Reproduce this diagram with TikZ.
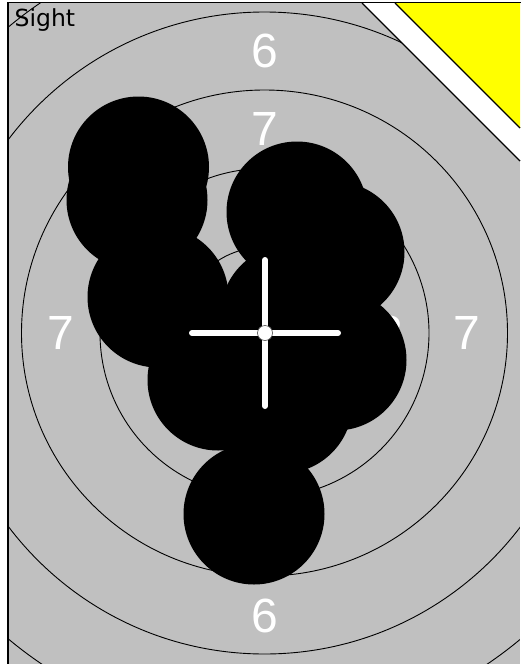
\documentclass[tikz,border=0pt]{standalone}
\usepackage{fontspec}
\setsansfont{Liberation Sans}
\newfontfamily\captionfont{DejaVu Sans}
\definecolor{targetgrey}{HTML}{C0C0C0}
\definecolor{signyellow}{HTML}{FFFF00}

\begin{document}
\begin{tikzpicture}[
    x=1pt, y=-1pt,
    ring/.style={draw=black, line width=0.9pt},
    hole/.style={fill=black},
    score/.style={text=white, font=\sffamily\fontsize{48}{48}\selectfont, inner sep=0pt},
    hair/.style={draw=white, line width=6pt, line cap=round},
    edge/.style={draw=black, line width=1.4pt},
]
\useasboundingbox (0,0) rectangle (520,664);

% Target area
\begin{scope}
\clip (8,3) -- (362,3) -- (520,161) -- (520,664) -- (8,664) -- cycle;
\fill[targetgrey] (0,0) rectangle (520,664);

\node[font=\captionfont\fontsize{23.5}{23.5}\selectfont, anchor=base west, inner sep=0pt] (sight) at (14.5,26) {Sight};

% Score numbers
\node[score] (six top) at (264.5,51) {6};
\node[score] (six bottom) at (264.5,616) {6};
\node[score] (seven top) at (264.5,129) {7};
\node[score] (seven left) at (61,333) {7};
\node[score] (seven right) at (467,333) {7};
\node[score] (eight right) at (390,333) {8};
\node[score] (eight left) at (139,333) {8};
\node[score] (eight top) at (264.5,208) {8};
\node[score] (eight bottom) at (264.5,458) {8};

% Rings
\coordinate (centre) at (264.5,333);
\draw[ring] (centre) circle[radius=86];
\draw[ring] (centre) circle[radius=164.5];
\draw[ring] (centre) circle[radius=243];
\draw[ring] (centre) circle[radius=321];
\draw[ring] (centre) circle[radius=399];

% Shots
\fill[hole] (138.5,167) circle[radius=70.5];
\fill[hole] (137,200) circle[radius=70.5];
\fill[hole] (158,297) circle[radius=70.5];
\fill[hole] (297,212) circle[radius=70.5];
\fill[hole] (334,252) circle[radius=70.5];
\fill[hole] (291,315) circle[radius=70.5];
\fill[hole] (336,360) circle[radius=70.5];
\fill[hole] (218,380) circle[radius=70.5];
\fill[hole] (282,403) circle[radius=70.5];
\fill[hole] (254,514) circle[radius=70.5];

% Crosshair
\coordinate (aim) at (265,333);
\draw[hair] ([xshift=-73pt]aim) -- ([xshift=73pt]aim);
\draw[hair] ([yshift=73pt]aim) -- ([yshift=-73pt]aim);
\filldraw[fill=white, draw=black!70, line width=0.6pt] (aim) circle[radius=7.5];
\end{scope}

% Corner sign
\fill[white] (362,3) -- (520,3) -- (520,161) -- cycle;
\fill[signyellow] (395,3) -- (520,3) -- (520,128) -- cycle;
\draw[edge] (362,3) -- (520,161);
\draw[edge] (395,3) -- (520,128);

% Frame
\draw[edge] (8,670) -- (8,2.5) -- (525,2.5);
\end{tikzpicture}
\end{document}
